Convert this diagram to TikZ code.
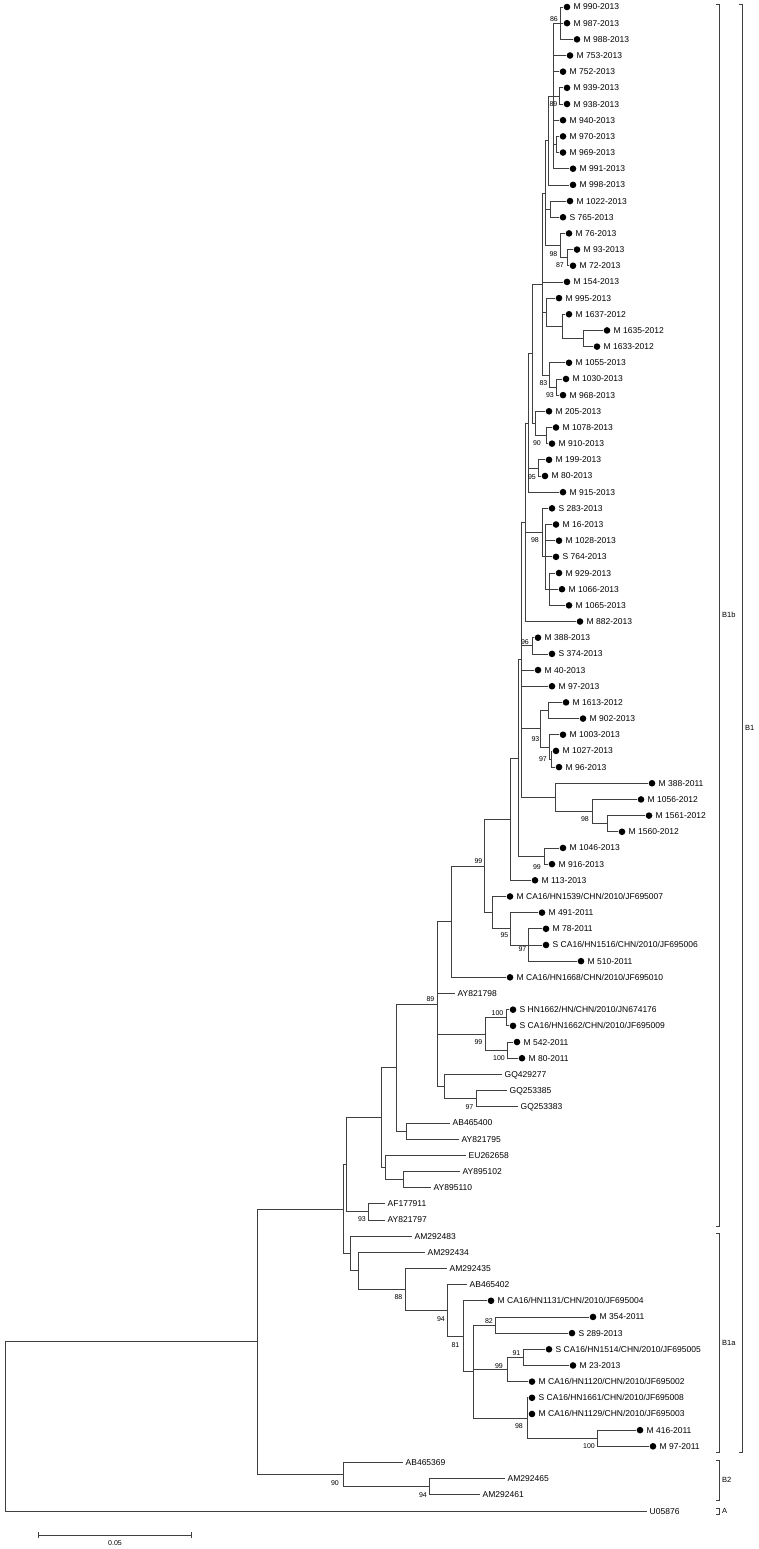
\documentclass[tikz,border=0pt]{standalone}
\usepackage{fontspec}
\setmainfont{Liberation Sans}
\usetikzlibrary{calc}
\newcommand\inode[4]{\path let \p1=(#3), \p2=(#4) in coordinate (#1) at (#2pt,{0.5*\y1+0.5*\y2});}
\newcommand\clade[5]{\inode{#1}{#2}{#3}{#4}\foreach \c in {#5}{\draw[br] (#1) |- (\c);}}
\newcommand\dleaf[4]{\coordinate (#1) at (#2,{7+(#3-1)*16.172});
  \node[dotn] (#1d) at (#2+4,{7+(#3-1)*16.172}) {};
  \node[leaftext] (#1t) at (#2+10.5,{10+(#3-1)*16.172}) {#4};}
\newcommand\pleaf[4]{\coordinate (#1) at (#2,{7+(#3-1)*16.172});
  \node[leaftext] (#1t) at (#2+2.5,{10+(#3-1)*16.172}) {#4};}
\newcommand\bsv[4]{\node[bsn] (#1) at (#2,#3) {#4};}
\begin{document}
\begin{tikzpicture}[x=1pt,y=-1pt,
  br/.style={draw=black!75,line width=0.75pt},
  dotn/.style={circle,fill=black,inner sep=0pt,minimum size=6.6pt},
  leaftext/.style={anchor=base west,inner sep=0pt,font=\fontsize{8.5}{10}\selectfont},
  bsn/.style={anchor=east,inner sep=0pt,font=\fontsize{7}{8}\selectfont},
  grp/.style={anchor=west,inner sep=0pt,font=\fontsize{7.5}{9}\selectfont}]
\useasboundingbox (0,0) rectangle (758,1549);
% leaves
\dleaf{l1}{563}{1}{M 990-2013}
\dleaf{l2}{563}{2}{M 987-2013}
\dleaf{l3}{573}{3}{M 988-2013}
\dleaf{l4}{566}{4}{M 753-2013}
\dleaf{l5}{559}{5}{M 752-2013}
\dleaf{l6}{563}{6}{M 939-2013}
\dleaf{l7}{563}{7}{M 938-2013}
\dleaf{l8}{559}{8}{M 940-2013}
\dleaf{l9}{559}{9}{M 970-2013}
\dleaf{l10}{559}{10}{M 969-2013}
\dleaf{l11}{569}{11}{M 991-2013}
\dleaf{l12}{569}{12}{M 998-2013}
\dleaf{l13}{566}{13}{M 1022-2013}
\dleaf{l14}{559}{14}{S 765-2013}
\dleaf{l15}{565}{15}{M 76-2013}
\dleaf{l16}{573}{16}{M 93-2013}
\dleaf{l17}{569}{17}{M 72-2013}
\dleaf{l18}{563}{18}{M 154-2013}
\dleaf{l19}{555}{19}{M 995-2013}
\dleaf{l20}{565}{20}{M 1637-2012}
\dleaf{l21}{603}{21}{M 1635-2012}
\dleaf{l22}{593}{22}{M 1633-2012}
\dleaf{l23}{565}{23}{M 1055-2013}
\dleaf{l24}{562}{24}{M 1030-2013}
\dleaf{l25}{559}{25}{M 968-2013}
\dleaf{l26}{545}{26}{M 205-2013}
\dleaf{l27}{552}{27}{M 1078-2013}
\dleaf{l28}{548}{28}{M 910-2013}
\dleaf{l29}{545}{29}{M 199-2013}
\dleaf{l30}{541}{30}{M 80-2013}
\dleaf{l31}{559}{31}{M 915-2013}
\dleaf{l32}{548}{32}{S 283-2013}
\dleaf{l33}{552}{33}{M 16-2013}
\dleaf{l34}{555}{34}{M 1028-2013}
\dleaf{l35}{552}{35}{S 764-2013}
\dleaf{l36}{555}{36}{M 929-2013}
\dleaf{l37}{558}{37}{M 1066-2013}
\dleaf{l38}{565}{38}{M 1065-2013}
\dleaf{l39}{576}{39}{M 882-2013}
\dleaf{l40}{534}{40}{M 388-2013}
\dleaf{l41}{548}{41}{S 374-2013}
\dleaf{l42}{534}{42}{M 40-2013}
\dleaf{l43}{548}{43}{M 97-2013}
\dleaf{l44}{562}{44}{M 1613-2012}
\dleaf{l45}{579}{45}{M 902-2013}
\dleaf{l46}{559}{46}{M 1003-2013}
\dleaf{l47}{552}{47}{M 1027-2013}
\dleaf{l48}{555}{48}{M 96-2013}
\dleaf{l49}{648}{49}{M 388-2011}
\dleaf{l50}{637}{50}{M 1056-2012}
\dleaf{l51}{645}{51}{M 1561-2012}
\dleaf{l52}{618}{52}{M 1560-2012}
\dleaf{l53}{559}{53}{M 1046-2013}
\dleaf{l54}{548}{54}{M 916-2013}
\dleaf{l55}{531}{55}{M 113-2013}
\dleaf{l56}{506}{56}{M CA16/HN1539/CHN/2010/JF695007}
\dleaf{l57}{538}{57}{M 491-2011}
\dleaf{l58}{542}{58}{M 78-2011}
\dleaf{l59}{542}{59}{S CA16/HN1516/CHN/2010/JF695006}
\dleaf{l60}{577}{60}{M 510-2011}
\dleaf{l61}{506}{61}{M CA16/HN1668/CHN/2010/JF695010}
\pleaf{l62}{455}{62}{AY821798}
\dleaf{l63}{509}{63}{S HN1662/HN/CHN/2010/JN674176}
\dleaf{l64}{509}{64}{S CA16/HN1662/CHN/2010/JF695009}
\dleaf{l65}{513}{65}{M 542-2011}
\dleaf{l66}{518}{66}{M 80-2011}
\pleaf{l67}{502}{67}{GQ429277}
\pleaf{l68}{507}{68}{GQ253385}
\pleaf{l69}{518}{69}{GQ253383}
\pleaf{l70}{450}{70}{AB465400}
\pleaf{l71}{459}{71}{AY821795}
\pleaf{l72}{466}{72}{EU262658}
\pleaf{l73}{460}{73}{AY895102}
\pleaf{l74}{431}{74}{AY895110}
\pleaf{l75}{385}{75}{AF177911}
\pleaf{l76}{385}{76}{AY821797}
\pleaf{l77}{412}{77}{AM292483}
\pleaf{l78}{425}{78}{AM292434}
\pleaf{l79}{447}{79}{AM292435}
\pleaf{l80}{467}{80}{AB465402}
\dleaf{l81}{487}{81}{M CA16/HN1131/CHN/2010/JF695004}
\dleaf{l82}{589}{82}{M 354-2011}
\dleaf{l83}{568}{83}{S 289-2013}
\dleaf{l84}{545}{84}{S CA16/HN1514/CHN/2010/JF695005}
\dleaf{l85}{569}{85}{M 23-2013}
\dleaf{l86}{528}{86}{M CA16/HN1120/CHN/2010/JF695002}
\dleaf{l87}{528}{87}{S CA16/HN1661/CHN/2010/JF695008}
\dleaf{l88}{528}{88}{M CA16/HN1129/CHN/2010/JF695003}
\dleaf{l89}{636}{89}{M 416-2011}
\dleaf{l90}{649}{90}{M 97-2011}
\pleaf{l91}{403}{91}{AB465369}
\pleaf{l92}{505}{92}{AM292465}
\pleaf{l93}{480}{93}{AM292461}
\pleaf{l94}{647}{94}{U05876}
% internal nodes
\clade{n86}{560}{l1}{l3}{l1,l2,l3}
\clade{n89}{559}{l6}{l7}{l6,l7}
\clade{n970}{556}{l9}{l10}{l9,l10}
\clade{nA}{553}{n86}{l11}{n86,l4,l5,n89,l8,n970,l11}
\clade{nB}{548}{nA}{l12}{nA,l12}
\clade{n1022}{550}{l13}{l14}{l13,l14}
\clade{n87}{567}{l16}{l17}{l16,l17}
\clade{n98a}{560}{l15}{n87}{l15,n87}
\clade{nC}{545}{nB}{n98a}{nB,n1022,n98a}
\clade{n1635}{583}{l21}{l22}{l21,l22}
\clade{n1637}{562}{l20}{n1635}{l20,n1635}
\clade{n995}{546}{l19}{n1637}{l19,n1637}
\clade{n93a}{556}{l24}{l25}{l24,l25}
\clade{n83}{549}{l23}{n93a}{l23,n93a}
\clade{nD}{542}{nC}{n83}{nC,l18,n995,n83}
\clade{n90}{546}{l27}{l28}{l27,l28}
\clade{n205}{535}{l26}{n90}{l26,n90}
\clade{n532}{532}{nD}{n205}{nD,n205}
\clade{n95}{538}{l29}{l30}{l29,l30}
\clade{n528}{528}{n532}{l31}{n532,n95,l31}
\clade{nN2}{549}{l36}{l38}{l36,l37,l38}
\clade{nN1}{545}{l33}{nN2}{l33,l34,l35,nN2}
\clade{n98b}{542}{l32}{nN1}{l32,nN1}
\clade{n525}{525}{n528}{l39}{n528,n98b,l39}
\clade{n96}{532}{l40}{l41}{l40,l41}
\clade{n1613}{548}{l44}{l45}{l44,l45}
\clade{n97a}{551}{l47}{l48}{l47,l48}
\clade{n1003}{549}{l46}{n97a}{l46,n97a}
\clade{n93b}{540}{n1613}{n1003}{n1613,n1003}
\clade{n1561}{607}{l51}{l52}{l51,l52}
\clade{n98c}{592}{l50}{n1561}{l50,n1561}
\clade{n388}{555}{l49}{n98c}{l49,n98c}
\clade{n521}{521}{n525}{n388}{n525,n96,l42,l43,n93b,n388}
\clade{n99c}{544}{l53}{l54}{l53,l54}
\clade{n518}{518}{n521}{n99c}{n521,n99c}
\clade{n510}{510}{n518}{l55}{n518,l55}
\clade{n97c}{528}{l58}{l60}{l58,l59,l60}
\clade{n95b}{510}{l57}{n97c}{l57,n97c}
\clade{n492}{492}{l56}{n95b}{l56,n95b}
\clade{n99b}{484}{n510}{n492}{n510,n492}
\clade{n451}{451}{n99b}{l61}{n99b,l61}
\clade{n100a}{506}{l63}{l64}{l63,l64}
\clade{n100b}{507}{l65}{l66}{l65,l66}
\clade{n99d}{485}{n100a}{n100b}{n100a,n100b}
\clade{n97d}{476}{l68}{l69}{l68,l69}
\clade{nGQ}{444}{l67}{n97d}{l67,n97d}
\clade{n89b}{437}{n451}{nGQ}{n451,l62,n99d,nGQ}
\clade{n406}{406}{l70}{l71}{l70,l71}
\clade{n396}{396}{n89b}{n406}{n89b,n406}
\clade{n403}{403}{l73}{l74}{l73,l74}
\clade{n385}{385}{l72}{n403}{l72,n403}
\clade{n381}{381}{n396}{n385}{n396,n385}
\clade{n93c}{368}{l75}{l76}{l75,l76}
\clade{n346}{346}{n381}{n93c}{n381,n93c}
\clade{n100c}{597}{l89}{l90}{l89,l90}
\clade{n98d}{527}{l87}{n100c}{l87,l88,n100c}
\clade{n91}{523}{l84}{l85}{l84,l85}
\clade{n99e}{507}{n91}{l86}{n91,l86}
\clade{n82}{495}{l82}{l83}{l82,l83}
\clade{n473}{473}{n82}{n98d}{n82,n99e,n98d}
\clade{n81}{463}{l81}{n473}{l81,n473}
\clade{n94a}{447}{l80}{n81}{l80,n81}
\clade{n88}{405}{l79}{n94a}{l79,n94a}
\clade{n358}{358}{l78}{n88}{l78,n88}
\clade{n350}{350}{l77}{n358}{l77,n358}
\clade{n343}{343}{n346}{n350}{n346,n350}
\clade{n94b}{429}{l92}{l93}{l92,l93}
\clade{nB2}{343}{l91}{n94b}{l91,n94b}
\clade{n257}{257}{n343}{nB2}{n343,nB2}
\clade{nroot}{5}{n257}{l94}{n257,l94}
% bootstrap values
\bsv{b1}{558}{19}{86}
\bsv{b2}{557.5}{104}{89}
\bsv{b3}{557.5}{254}{98}
\bsv{b4}{564}{265}{87}
\bsv{b5}{547.5}{383}{83}
\bsv{b6}{554}{395}{93}
\bsv{b7}{541}{443}{90}
\bsv{b8}{536}{477}{95}
\bsv{b9}{539}{540}{98}
\bsv{b10}{529}{642}{96}
\bsv{b11}{539.5}{739}{93}
\bsv{b12}{547}{759}{97}
\bsv{b13}{589}{819}{98}
\bsv{b14}{541}{867}{99}
\bsv{b15}{482.5}{861}{99}
\bsv{b16}{508.5}{935}{95}
\bsv{b17}{526.5}{949}{97}
\bsv{b18}{434.5}{999}{89}
\bsv{b19}{503.5}{1013}{100}
\bsv{b20}{482.5}{1042}{99}
\bsv{b21}{505}{1058}{100}
\bsv{b22}{473.5}{1107}{97}
\bsv{b23}{366}{1219}{93}
\bsv{b24}{402.5}{1297}{88}
\bsv{b25}{445}{1319}{94}
\bsv{b26}{459.5}{1345}{81}
\bsv{b27}{493}{1321}{82}
\bsv{b28}{503}{1366}{99}
\bsv{b29}{520.5}{1353}{91}
\bsv{b30}{523}{1426}{98}
\bsv{b31}{595}{1446}{100}
\bsv{b32}{339}{1483}{90}
\bsv{b33}{427}{1495}{94}
% group brackets
\draw[br] (716,4.5) -- (719,4.5) -- (719,1226) -- (716,1226);
\draw[br] (716,1233) -- (719,1233) -- (719,1452) -- (716,1452);
\draw[br] (716,1460) -- (719,1460) -- (719,1500) -- (716,1500);
\draw[br] (716,1508) -- (719,1508) -- (719,1514) -- (716,1514);
\draw[br] (739,4.5) -- (742,4.5) -- (742,1452) -- (739,1452);
\node[grp] (gB1b) at (722,615) {B1b};
\node[grp] (gB1) at (745,728) {B1};
\node[grp] (gB1a) at (722,1343) {B1a};
\node[grp] (gB2) at (722,1480) {B2};
\node[grp] (gA) at (722,1511) {A};
% scale bar
\coordinate (sb1) at (38,1535);
\coordinate (sb2) at (191,1535);
\draw[br] (sb1) -- (sb2);
\draw[br] ([yshift=3pt]sb1) -- ([yshift=-3pt]sb1);
\draw[br] ([yshift=3pt]sb2) -- ([yshift=-3pt]sb2);
\node[bsn,anchor=center] (sbl) at (115,1543) {0.05};
\end{tikzpicture}
\end{document}
